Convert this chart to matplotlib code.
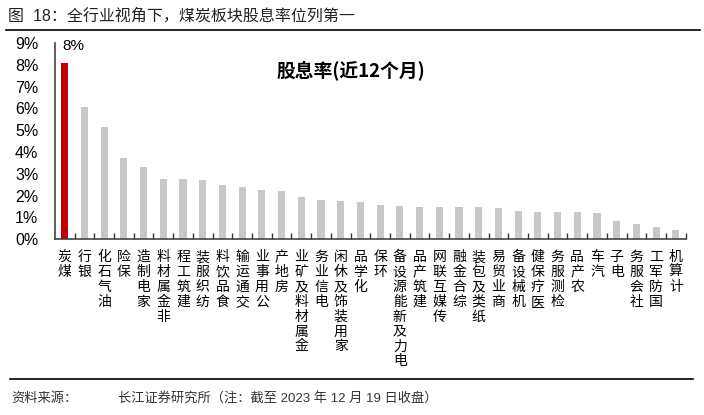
import matplotlib
matplotlib.use('Agg')
import matplotlib.pyplot as plt
from matplotlib.lines import Line2D

plt.rcParams['font.family'] = ['Liberation Sans', 'Noto Sans CJK SC', 'DejaVu Sans']

# industries, sorted by dividend yield (last 12 months), in %
industries = ['煤炭', '银行', '油气石化', '保险', '家电制造', '非金属材料', '建筑工程',
              '纺织服装', '食品饮料', '交通运输', '公用事业', '房地产', '金属材料及矿业',
              '电信业务', '家用装饰及休闲', '化学品', '环保', '电力及新能源设备', '建筑产品',
              '传媒互联网', '综合金融', '纸类及包装', '商业贸易', '机械设备', '医疗保健',
              '检测服务', '农产品', '汽车', '电子', '社会服务', '国防军工', '计算机']
dividend_yield = [8.1, 6.05, 5.15, 3.72, 3.32, 2.77, 2.74, 2.70, 2.47, 2.38, 2.24, 2.21,
                  1.94, 1.79, 1.75, 1.72, 1.56, 1.51, 1.48, 1.48, 1.48, 1.48, 1.44, 1.30,
                  1.23, 1.23, 1.23, 1.21, 0.85, 0.70, 0.55, 0.43]
yticks = [0, 1, 2, 3, 4, 5, 6, 7, 8, 9]
highlight_label = '8%'

fig = plt.figure(figsize=(7.04, 4.15), dpi=100)
ax = fig.add_axes([0.078, 0.424, 0.896, 0.472])

x = list(range(len(industries)))
colors = ['#C00000'] + ['#C8C8C8'] * (len(industries) - 1)
ax.bar(x, dividend_yield, width=0.36, color=colors, zorder=2)

ax.set_xlim(-0.5, len(industries) - 0.5)
ax.set_ylim(0, 9)
ax.set_yticks(yticks)
ax.set_yticklabels(['%d%%' % v for v in yticks], fontsize=11.5)
ax.tick_params(axis='y', length=0, pad=12)

# vertical labels: characters stacked, read from bottom to top
labels = ['\n'.join(reversed(s)) for s in industries]
ax.set_xticks(x)
ax.set_xticklabels(labels, fontsize=10, linespacing=1.08,
                   family=['Noto Sans CJK SC', 'DejaVu Sans'])
ax.tick_params(axis='x', which='major', length=0, pad=8)
ax.set_xticks([i + 0.5 for i in x], minor=True)
ax.tick_params(axis='x', which='minor', direction='in', length=4, width=1, color='#333333')

for side in ['top', 'right']:
    ax.spines[side].set_visible(False)
for side in ['left', 'bottom']:
    ax.spines[side].set_color('#444444')
    ax.spines[side].set_linewidth(1.2)

ax.text(-0.1, 8.88, highlight_label, ha='left', va='center', fontsize=11)
ax.text(0.47, 0.86, '股息率(近12个月)', transform=ax.transAxes, ha='center', va='center',
        fontsize=13.5, fontweight='bold', family=['Noto Sans CJK SC', 'DejaVu Sans'])

fig.text(0.012, 0.963, '图  18：全行业视角下，煤炭板块股息率位列第一', ha='left', va='center',
         fontsize=11.5, color='#222222')
fig.add_artist(Line2D([0.008, 0.995], [0.927, 0.927], color='black', linewidth=1.2))
fig.add_artist(Line2D([0.014, 0.985], [0.087, 0.087], color='black', linewidth=1.2))
fig.text(0.016, 0.04, '资料来源：', ha='left', va='center', fontsize=9.5, color='#333333')
fig.text(0.168, 0.04, '长江证券研究所（注：截至 2023 年 12 月 19 日收盘）', ha='left', va='center',
         fontsize=9.5, color='#333333')

fig.savefig('out.png', dpi=100)
